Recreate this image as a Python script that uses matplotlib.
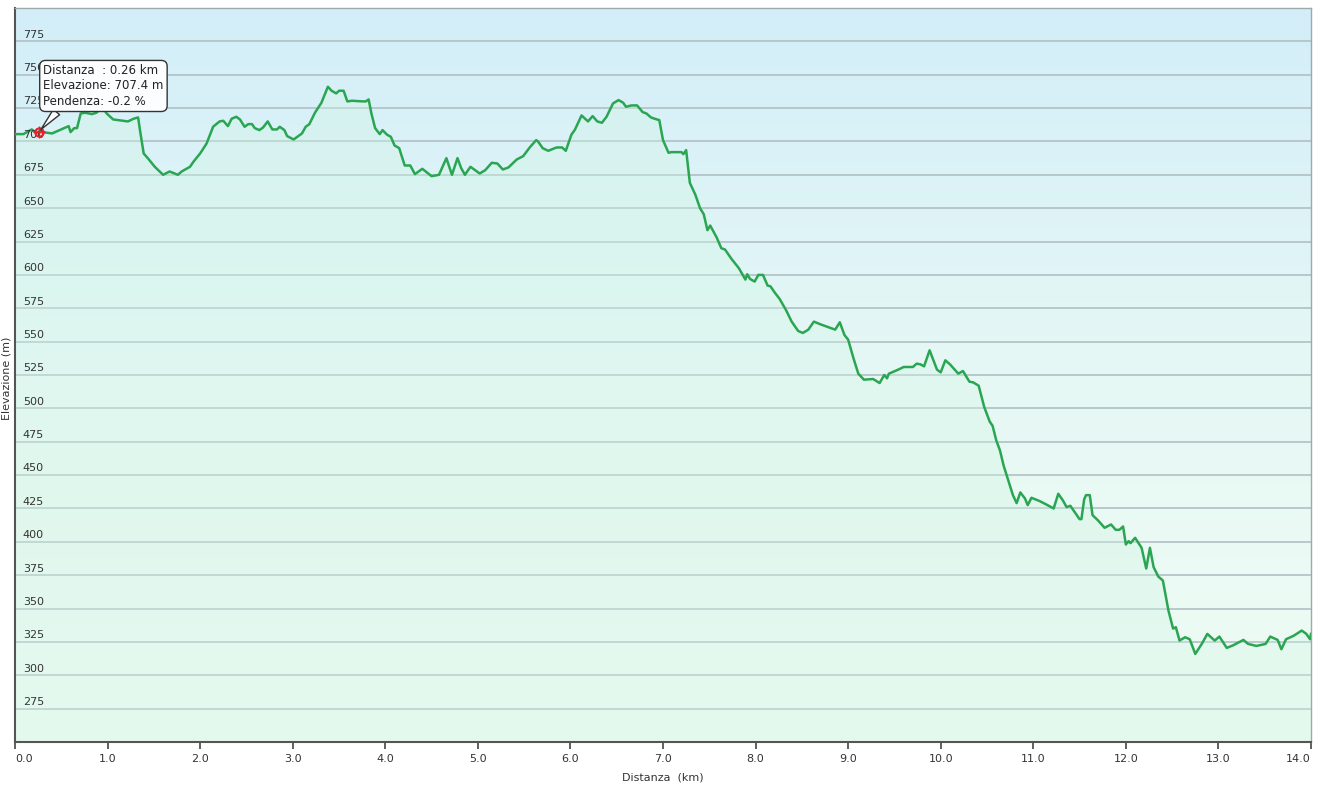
import numpy as np
import matplotlib
matplotlib.use("Agg")
import matplotlib.pyplot as plt
from matplotlib.colors import LinearSegmentedColormap

# Profilo altimetrico: distanza (km) ed elevazione (m)
distanza = [
    0.00, 0.09, 0.18, 0.23, 0.26, 0.40, 0.58, 0.60, 0.64, 0.67, 0.71, 0.76, 0.83, 0.88, 0.94,
    0.99, 1.06, 1.22, 1.28, 1.33, 1.35, 1.39, 1.44, 1.51, 1.60, 1.67, 1.76, 1.80, 1.89, 1.93,
    2.00, 2.07, 2.14, 2.21, 2.25, 2.30, 2.34, 2.39, 2.43, 2.48, 2.52, 2.56, 2.59, 2.64, 2.68,
    2.73, 2.78, 2.83, 2.86, 2.91, 2.94, 3.01, 3.04, 3.10, 3.14, 3.18, 3.24, 3.31, 3.38, 3.42,
    3.47, 3.50, 3.55, 3.59, 3.64, 3.76, 3.79, 3.82, 3.85, 3.89, 3.94, 3.97, 4.02, 4.06, 4.10,
    4.15, 4.21, 4.27, 4.32, 4.40, 4.50, 4.58, 4.66, 4.72, 4.78, 4.82, 4.86, 4.92, 5.02, 5.08,
    5.15, 5.21, 5.27, 5.33, 5.42, 5.49, 5.56, 5.63, 5.65, 5.70, 5.76, 5.85, 5.91, 5.95, 6.01,
    6.05, 6.12, 6.19, 6.24, 6.29, 6.34, 6.39, 6.46, 6.52, 6.57, 6.60, 6.66, 6.72, 6.78, 6.82,
    6.87, 6.91, 6.96, 7.00, 7.06, 7.09, 7.13, 7.20, 7.22, 7.25, 7.29, 7.35, 7.40, 7.44, 7.48,
    7.51, 7.58, 7.63, 7.67, 7.74, 7.82, 7.89, 7.91, 7.94, 7.99, 8.03, 8.08, 8.13, 8.16, 8.21,
    8.26, 8.33, 8.39, 8.46, 8.51, 8.57, 8.63, 8.70, 8.86, 8.91, 8.96, 9.00, 9.06, 9.11, 9.17,
    9.27, 9.34, 9.39, 9.42, 9.44, 9.49, 9.54, 9.60, 9.70, 9.74, 9.78, 9.82, 9.88, 9.96, 10.00,
    10.05, 10.10, 10.19, 10.24, 10.31, 10.35, 10.41, 10.47, 10.53, 10.56, 10.60, 10.64, 10.68,
    10.73, 10.78, 10.82, 10.86, 10.91, 10.94, 10.98, 11.07, 11.14, 11.22, 11.27, 11.32, 11.36,
    11.40, 11.45, 11.50, 11.52, 11.55, 11.57, 11.61, 11.64, 11.70, 11.77, 11.84, 11.89, 11.93,
    11.97, 12.00, 12.03, 12.05, 12.10, 12.17, 12.22, 12.26, 12.30, 12.35, 12.40, 12.46, 12.51,
    12.54, 12.58, 12.64, 12.69, 12.75, 12.82, 12.88, 12.96, 13.01, 13.09, 13.16, 13.27, 13.32,
    13.41, 13.51, 13.56, 13.64, 13.68, 13.73, 13.81, 13.90, 13.95, 13.99, 14.00,
]
elevazione = [
    705.5, 705.5, 709, 706.5, 707.4, 706, 711.5, 707, 710, 710, 721, 721.5, 720.5, 721.5, 726,
    721, 716.5, 715, 717, 718, 708.5, 691, 687, 681, 675, 677.5, 675, 677.5, 681, 685,
    691, 698.5, 711, 715, 715.5, 711.5, 717, 718.5, 716.5, 711, 713, 713, 710, 708.5, 710.5,
    715, 709, 709, 711, 708.5, 704, 701.5, 703, 706, 711, 713, 721.5, 729, 741, 738,
    736, 738, 738, 730, 730.5, 730, 730, 731.5, 721, 710, 705.5, 708.5, 705, 703.5, 697,
    695, 682, 682, 675.5, 679.5, 674, 675, 687.5, 675, 687.5, 680, 675, 681, 676, 678.5,
    684, 683.5, 679, 680.5, 686.5, 689, 695.5, 701, 700, 695, 693, 695.5, 695.5, 693, 705,
    709, 719.5, 715, 719, 715, 714, 718.5, 728.5, 731, 729, 726, 727, 727, 722, 721,
    718, 717, 716, 701, 691.5, 692, 692, 692, 690.5, 693.5, 669, 660, 650, 645.5, 633.5,
    637, 628, 620, 619, 612, 605, 596.5, 600.5, 597, 595, 600, 600, 592, 591.5, 586.5,
    582, 573.5, 565, 558, 556.5, 559, 565, 563, 559, 564.5, 555, 551.5, 537, 526, 521.5,
    522, 519, 525, 522.5, 526, 527.5, 529, 531, 531, 533.5, 533, 531.5, 543.5, 529, 527,
    536, 533, 526, 528, 520, 519.5, 517, 501, 490, 487, 476, 468.5, 457,
    446, 435, 429, 437, 432.5, 427.5, 433, 430.5, 428, 425, 436, 431, 426,
    427, 422, 417, 417, 432, 435, 435, 420, 416, 410.5, 413, 409, 409,
    411.5, 398, 400.5, 399, 403, 395.5, 380, 395.5, 381, 374, 371, 348.5, 335,
    336, 326, 328.5, 327, 316, 323.5, 331, 326, 329, 320.5, 322.5, 326.5, 323.5,
    322, 323.5, 329, 326.5, 319.5, 327, 329.5, 333.5, 331, 327, 331,
]

x_ticks = [0, 1, 2, 3, 4, 5, 6, 7, 8, 9, 10, 11, 12, 13, 14]
y_ticks = [275, 300, 325, 350, 375, 400, 425, 450, 475, 500, 525, 550, 575, 600, 625,
           650, 675, 700, 725, 750, 775]

# Punto evidenziato dal tooltip
punto_km = 0.26
punto_elev = 707.4
tooltip = "Distanza  : 0.26 km\nElevazione: 707.4 m\nPendenza: -0.2 %"

y_min, y_max = 250, 800

fig = plt.figure(figsize=(13.2, 7.86), dpi=100)
ax = fig.add_axes([15 / 1320, 1 - 742 / 786, 1296 / 1320, 734 / 786])

# Sfondo sfumato (azzurro in alto, verde chiaro in basso)
cmap_bg = LinearSegmentedColormap.from_list("bg", ["#f0fcf4", "#e6f8f5", "#d3eef9"])
grad = np.linspace(0, 1, 256).reshape(-1, 1)
ax.imshow(grad, aspect="auto", cmap=cmap_bg, origin="lower",
          extent=[0, 14, y_min, y_max], zorder=0)

for t in y_ticks:
    ax.axhline(t, color="#b4c4c8", lw=1.3, zorder=1)

ax.fill_between(distanza, elevazione, y_min, color="#d2f6e4", alpha=0.35, lw=0, zorder=2)
ax.plot(distanza, elevazione, color="#2aa652", lw=1.8, zorder=3)

ax.set_xlim(0, 14)
ax.set_ylim(y_min, y_max)

# Etichette asse y dentro il grafico, sopra le linee della griglia
ax.set_yticks([])
for t in y_ticks:
    ax.text(0.006, t + 1.2, str(t), transform=ax.get_yaxis_transform(),
            fontsize=8, color="#333333", va="bottom", ha="left", zorder=4)

ax.set_xticks(x_ticks)
ax.set_xticklabels([f"{v:.1f}" for v in x_ticks], fontsize=8, color="#333333")
ax.tick_params(axis="x", direction="out", length=5, width=1.2, color="#444444", pad=4)
etichette = ax.get_xticklabels()
etichette[0].set_horizontalalignment("left")
etichette[-1].set_horizontalalignment("right")

for side in ["top", "right"]:
    ax.spines[side].set_color("#a0a8ac")
    ax.spines[side].set_linewidth(1)
for side in ["left", "bottom"]:
    ax.spines[side].set_color("#555555")
    ax.spines[side].set_linewidth(1.5)

ax.set_xlabel("Distanza  (km)", fontsize=8, color="#333333", labelpad=6)
fig.text(7 / 1320, 1 - 378 / 786, "Elevazione (m)", rotation=90, fontsize=8,
         color="#333333", ha="center", va="center")

# Tooltip con marcatore
ax.plot(punto_km, punto_elev, marker="o", ms=6, mfc="none", mec="#e8202a", mew=1.5, zorder=6)
ax.plot(punto_km, punto_elev, marker="+", ms=9, mec="#e8202a", mew=1, zorder=6)
ax.annotate(tooltip, xy=(punto_km, punto_elev), xytext=(3, 17), textcoords="offset points",
            fontsize=8.5, color="#222222", ha="left", va="bottom", linespacing=1.25, zorder=7,
            bbox=dict(boxstyle="round,pad=0.3,rounding_size=0.5", fc="#fbfdff", ec="#333333", lw=1),
            arrowprops=dict(arrowstyle="wedge,tail_width=0.7", fc="#fbfdff", ec="#333333", lw=1,
                            relpos=(0.14, 0.0), shrinkA=0, shrinkB=2))

fig.savefig("out.png", dpi=100)
